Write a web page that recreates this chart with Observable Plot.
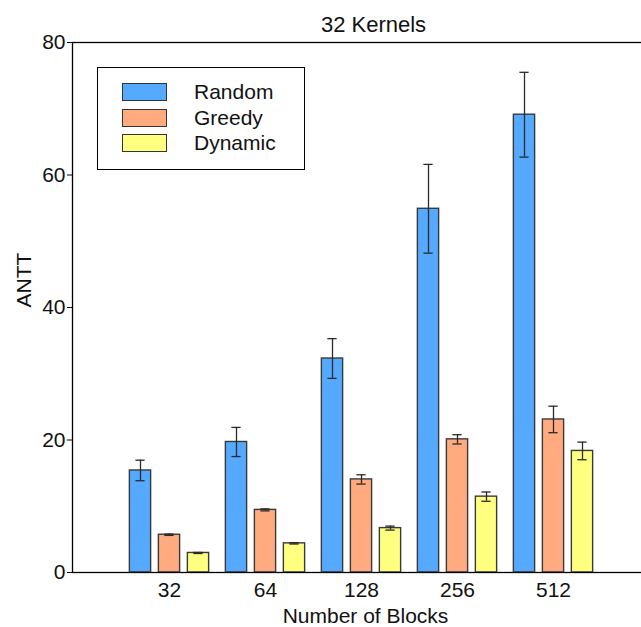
<!DOCTYPE html>
<html>
<head>
<meta charset="utf-8">
<script src="https://cdn.jsdelivr.net/npm/d3@7"></script>
<script src="https://cdn.jsdelivr.net/npm/@observablehq/plot@0.6"></script>
<style>
  html, body { margin: 0; padding: 0; overflow: hidden; background: #fff; }
  #wrap { position: relative; width: 641px; height: 627px; overflow: hidden; }
  #chart svg { max-width: none !important; height: 627px !important; width: 658px !important; }
  #legend {
    position: absolute; left: 97px; top: 67px; width: 208px; height: 103px;
    border: 1px solid #000; box-sizing: border-box; background: #fff;
    font-family: "Liberation Sans", Arial, sans-serif; font-size: 21px; color: #111;
  }
  .sw { position: absolute; left: 24px; width: 45px; height: 18px; box-sizing: border-box; border: 1.3px solid #333; }
  .lb { position: absolute; left: 96px; line-height: 24px; }
</style>
</head>
<body>
<div id="wrap"><div id="chart"></div><div id="legend"></div></div>
<script>
const blocks = ["32", "64", "128", "256", "512"];
const series = ["Random", "Greedy", "Dynamic"];
const colors = ["#55a9ff", "#ffaa7f", "#ffff80"];
const random = [15.4, 19.7, 32.3, 54.9, 69.1];
const randomErr = [1.55, 2.2, 3.0, 6.7, 6.4];
const greedy = [5.7, 9.45, 14.05, 20.1, 23.1];
const greedyErr = [0.1, 0.15, 0.7, 0.7, 2.0];
const dynamic = [2.95, 4.4, 6.7, 11.45, 18.35];
const dynamicErr = [0.08, 0.1, 0.3, 0.7, 1.33];
const yTicks = [0, 20, 40, 60, 80];
const title = "32 Kernels";
const xLabel = "Number of Blocks";
const yLabel = "ANTT";

const values = [random, greedy, dynamic];
const errs = [randomErr, greedyErr, dynamicErr];
const rows = [];
series.forEach((s, si) => blocks.forEach((b, bi) => rows.push({
  block: b, series: s, value: values[si][bi], err: errs[si][bi]
})));

const W = 658, ML = 72;
const step = 96.75;        // group band
const barW = 22, barStep = 29, capW = 10;
const inset = (step - barW) / 2;
const capInset = (step - capW) / 2;

const marks = [];
series.forEach((s, si) => {
  const d = rows.filter(r => r.series === s);
  const dx = (si - 1) * barStep;
  marks.push(Plot.barY(d, {x: "block", y: "value", fill: colors[si], stroke: "#3a3a3a", strokeWidth: 1.4,
    insetLeft: inset, insetRight: inset, dx}));
  marks.push(Plot.ruleX(d, {x: "block", y1: r => r.value - r.err, y2: r => r.value + r.err, dx, stroke: "#2a2a2a", strokeWidth: 1.3}));
  marks.push(Plot.tickY(d, {x: "block", y: r => r.value - r.err, dx, insetLeft: capInset, insetRight: capInset, stroke: "#2a2a2a", strokeWidth: 1.3}));
  marks.push(Plot.tickY(d, {x: "block", y: r => r.value + r.err, dx, insetLeft: capInset, insetRight: capInset, stroke: "#2a2a2a", strokeWidth: 1.3}));
});

const chart = Plot.plot({
  width: W, height: 627,
  marginLeft: ML, marginRight: 0, marginTop: 42, marginBottom: 55,
  style: {fontFamily: "'Liberation Sans', Arial, sans-serif", fontSize: "21px", color: "#111", background: "#fff", maxWidth: "none"},
  x: {domain: blocks, range: [167.7 - step / 2, 167.7 + step * 4.5], padding: 0},
  y: {domain: [0, 80]},
  marks: [
    ...marks,
    Plot.frame({stroke: "#000", strokeWidth: 1.3}),
    Plot.axisY({ticks: yTicks, tickSize: 5, tickPadding: 2, label: null, stroke: "#000"}),
    Plot.axisX({tickSize: 0, tickPadding: 10, label: null}),
    Plot.text([title], {text: d => d, frameAnchor: "top", dx: 8, dy: -18, lineAnchor: "middle", fontSize: 22}),
    Plot.text([xLabel], {text: d => d, frameAnchor: "bottom", dx: 0, dy: 44, lineAnchor: "middle"}),
    Plot.text([yLabel], {text: d => d, frameAnchor: "left", dx: -48, rotate: -90, lineAnchor: "middle"})
  ]
});
document.getElementById("chart").appendChild(chart);

const legend = document.getElementById("legend");
series.forEach((s, i) => {
  const sw = document.createElement("div");
  sw.className = "sw";
  sw.style.top = (15 + i * 25.5) + "px";
  sw.style.background = colors[i];
  legend.appendChild(sw);
  const lb = document.createElement("div");
  lb.className = "lb";
  lb.style.top = (12 + i * 25.5) + "px";
  lb.textContent = s;
  legend.appendChild(lb);
});
</script>
</body>
</html>
